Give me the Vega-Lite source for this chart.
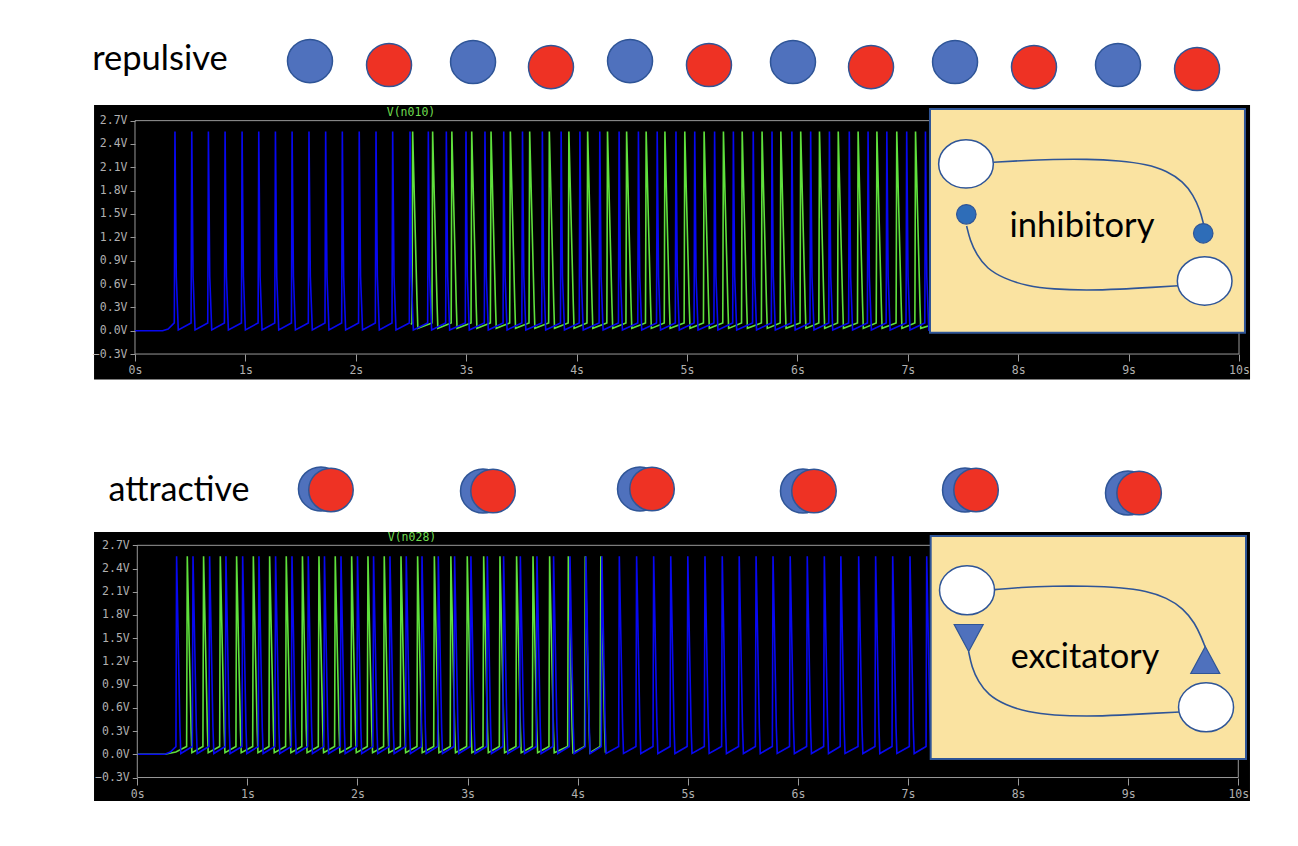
{"$schema":"https://vega.github.io/schema/vega-lite/v6.json","padding":0,"background":"white","spacing":0,"config":{"view":{"stroke":null}},
"datasets":{
"p1b":[{"t":0,"v":0},{"t":0.25,"v":0},{"t":0.3,"v":0.02},{"t":0.356,"v":0.1},{"t":0.362,"v":2.56},{"t":0.374,"v":0.7},{"t":0.392,"v":0.01},
{"t":0.508,"v":0.1},{"t":0.514,"v":2.56},{"t":0.526,"v":0.7},{"t":0.544,"v":0.01},
{"t":0.659,"v":0.1},{"t":0.665,"v":2.56},{"t":0.677,"v":0.7},{"t":0.695,"v":0.01},
{"t":0.81,"v":0.1},{"t":0.816,"v":2.56},{"t":0.828,"v":0.7},{"t":0.846,"v":0.01},
{"t":0.964,"v":0.1},{"t":0.97,"v":2.56},{"t":0.982,"v":0.7},{"t":1.0,"v":0.01},
{"t":1.115,"v":0.1},{"t":1.121,"v":2.56},{"t":1.133,"v":0.7},{"t":1.151,"v":0.01},
{"t":1.266,"v":0.1},{"t":1.272,"v":2.56},{"t":1.284,"v":0.7},{"t":1.302,"v":0.01},
{"t":1.417,"v":0.1},{"t":1.423,"v":2.56},{"t":1.435,"v":0.7},{"t":1.453,"v":0.01},
{"t":1.57,"v":0.1},{"t":1.576,"v":2.56},{"t":1.588,"v":0.7},{"t":1.606,"v":0.01},
{"t":1.721,"v":0.1},{"t":1.727,"v":2.56},{"t":1.739,"v":0.7},{"t":1.757,"v":0.01},
{"t":1.872,"v":0.1},{"t":1.878,"v":2.56},{"t":1.89,"v":0.7},{"t":1.908,"v":0.01},
{"t":2.025,"v":0.1},{"t":2.031,"v":2.56},{"t":2.043,"v":0.7},{"t":2.061,"v":0.01},
{"t":2.177,"v":0.1},{"t":2.183,"v":2.56},{"t":2.195,"v":0.7},{"t":2.213,"v":0.01},
{"t":2.328,"v":0.1},{"t":2.334,"v":2.56},{"t":2.346,"v":0.7},{"t":2.364,"v":0.01},
{"t":2.485,"v":0.1},{"t":2.491,"v":2.56},{"t":2.503,"v":0.7},{"t":2.521,"v":0.01},
{"t":2.651,"v":0.1},{"t":2.657,"v":2.56},{"t":2.669,"v":0.7},{"t":2.687,"v":0.01},
{"t":2.814,"v":0.1},{"t":2.82,"v":2.56},{"t":2.832,"v":0.7},{"t":2.85,"v":0.01},
{"t":2.992,"v":0.1},{"t":2.998,"v":2.56},{"t":3.01,"v":0.7},{"t":3.028,"v":0.01},
{"t":3.164,"v":0.1},{"t":3.17,"v":2.56},{"t":3.182,"v":0.7},{"t":3.2,"v":0.01},
{"t":3.334,"v":0.1},{"t":3.34,"v":2.56},{"t":3.352,"v":0.7},{"t":3.37,"v":0.01},
{"t":3.504,"v":0.1},{"t":3.51,"v":2.56},{"t":3.522,"v":0.7},{"t":3.54,"v":0.01},
{"t":3.684,"v":0.1},{"t":3.69,"v":2.56},{"t":3.702,"v":0.7},{"t":3.72,"v":0.01},
{"t":3.854,"v":0.1},{"t":3.86,"v":2.56},{"t":3.872,"v":0.7},{"t":3.89,"v":0.01},
{"t":4.024,"v":0.1},{"t":4.03,"v":2.56},{"t":4.042,"v":0.7},{"t":4.06,"v":0.01},
{"t":4.204,"v":0.1},{"t":4.21,"v":2.56},{"t":4.222,"v":0.7},{"t":4.24,"v":0.01},
{"t":4.379,"v":0.1},{"t":4.385,"v":2.56},{"t":4.397,"v":0.7},{"t":4.415,"v":0.01},
{"t":4.554,"v":0.1},{"t":4.56,"v":2.56},{"t":4.572,"v":0.7},{"t":4.59,"v":0.01},
{"t":4.724,"v":0.1},{"t":4.73,"v":2.56},{"t":4.742,"v":0.7},{"t":4.76,"v":0.01},
{"t":4.894,"v":0.1},{"t":4.9,"v":2.56},{"t":4.912,"v":0.7},{"t":4.93,"v":0.01},
{"t":5.064,"v":0.1},{"t":5.07,"v":2.56},{"t":5.082,"v":0.7},{"t":5.1,"v":0.01},
{"t":5.244,"v":0.1},{"t":5.25,"v":2.56},{"t":5.262,"v":0.7},{"t":5.28,"v":0.01},
{"t":5.414,"v":0.1},{"t":5.42,"v":2.56},{"t":5.432,"v":0.7},{"t":5.45,"v":0.01},
{"t":5.594,"v":0.1},{"t":5.6,"v":2.56},{"t":5.612,"v":0.7},{"t":5.63,"v":0.01},
{"t":5.764,"v":0.1},{"t":5.77,"v":2.56},{"t":5.782,"v":0.7},{"t":5.8,"v":0.01},
{"t":5.944,"v":0.1},{"t":5.95,"v":2.56},{"t":5.962,"v":0.7},{"t":5.98,"v":0.01},
{"t":6.114,"v":0.1},{"t":6.12,"v":2.56},{"t":6.132,"v":0.7},{"t":6.15,"v":0.01},
{"t":6.284,"v":0.1},{"t":6.29,"v":2.56},{"t":6.302,"v":0.7},{"t":6.32,"v":0.01},
{"t":6.464,"v":0.1},{"t":6.47,"v":2.56},{"t":6.482,"v":0.7},{"t":6.5,"v":0.01},
{"t":6.634,"v":0.1},{"t":6.64,"v":2.56},{"t":6.652,"v":0.7},{"t":6.67,"v":0.01},
{"t":6.804,"v":0.1},{"t":6.81,"v":2.56},{"t":6.822,"v":0.7},{"t":6.84,"v":0.01},
{"t":6.984,"v":0.1},{"t":6.99,"v":2.56},{"t":7.002,"v":0.7},{"t":7.02,"v":0.01},
{"t":7.154,"v":0.1},{"t":7.16,"v":2.56},{"t":7.172,"v":0.7},{"t":7.19,"v":0.01},{"t":7.3,"v":0.05}],
"p1g":[{"t":2.5,"v":0.08},{"t":2.509,"v":0.1},{"t":2.515,"v":2.56},{"t":2.555,"v":0.35},{"t":2.562,"v":0.03},
{"t":2.69,"v":0.1},{"t":2.696,"v":2.56},{"t":2.736,"v":0.35},{"t":2.743,"v":0.03},
{"t":2.864,"v":0.1},{"t":2.87,"v":2.56},{"t":2.91,"v":0.35},{"t":2.917,"v":0.03},
{"t":3.044,"v":0.1},{"t":3.05,"v":2.56},{"t":3.09,"v":0.35},{"t":3.097,"v":0.03},
{"t":3.219,"v":0.1},{"t":3.225,"v":2.56},{"t":3.265,"v":0.35},{"t":3.272,"v":0.03},
{"t":3.394,"v":0.1},{"t":3.4,"v":2.56},{"t":3.44,"v":0.35},{"t":3.447,"v":0.03},
{"t":3.569,"v":0.1},{"t":3.575,"v":2.56},{"t":3.615,"v":0.35},{"t":3.622,"v":0.03},
{"t":3.747,"v":0.1},{"t":3.753,"v":2.56},{"t":3.793,"v":0.35},{"t":3.8,"v":0.03},
{"t":3.924,"v":0.1},{"t":3.93,"v":2.56},{"t":3.97,"v":0.35},{"t":3.977,"v":0.03},
{"t":4.094,"v":0.1},{"t":4.1,"v":2.56},{"t":4.14,"v":0.35},{"t":4.147,"v":0.03},
{"t":4.274,"v":0.1},{"t":4.28,"v":2.56},{"t":4.32,"v":0.35},{"t":4.327,"v":0.03},
{"t":4.447,"v":0.1},{"t":4.453,"v":2.56},{"t":4.493,"v":0.35},{"t":4.5,"v":0.03},
{"t":4.624,"v":0.1},{"t":4.63,"v":2.56},{"t":4.67,"v":0.35},{"t":4.677,"v":0.03},
{"t":4.794,"v":0.1},{"t":4.8,"v":2.56},{"t":4.84,"v":0.35},{"t":4.847,"v":0.03},
{"t":4.974,"v":0.1},{"t":4.98,"v":2.56},{"t":5.02,"v":0.35},{"t":5.027,"v":0.03},
{"t":5.149,"v":0.1},{"t":5.155,"v":2.56},{"t":5.195,"v":0.35},{"t":5.202,"v":0.03},
{"t":5.324,"v":0.1},{"t":5.33,"v":2.56},{"t":5.37,"v":0.35},{"t":5.377,"v":0.03},
{"t":5.494,"v":0.1},{"t":5.5,"v":2.56},{"t":5.54,"v":0.35},{"t":5.547,"v":0.03},
{"t":5.674,"v":0.1},{"t":5.68,"v":2.56},{"t":5.72,"v":0.35},{"t":5.727,"v":0.03},
{"t":5.844,"v":0.1},{"t":5.85,"v":2.56},{"t":5.89,"v":0.35},{"t":5.897,"v":0.03},
{"t":6.024,"v":0.1},{"t":6.03,"v":2.56},{"t":6.07,"v":0.35},{"t":6.077,"v":0.03},
{"t":6.194,"v":0.1},{"t":6.2,"v":2.56},{"t":6.24,"v":0.35},{"t":6.247,"v":0.03},
{"t":6.364,"v":0.1},{"t":6.37,"v":2.56},{"t":6.41,"v":0.35},{"t":6.417,"v":0.03},
{"t":6.544,"v":0.1},{"t":6.55,"v":2.56},{"t":6.59,"v":0.35},{"t":6.597,"v":0.03},
{"t":6.714,"v":0.1},{"t":6.72,"v":2.56},{"t":6.76,"v":0.35},{"t":6.767,"v":0.03},
{"t":6.894,"v":0.1},{"t":6.9,"v":2.56},{"t":6.94,"v":0.35},{"t":6.947,"v":0.03},
{"t":7.064,"v":0.1},{"t":7.07,"v":2.56},{"t":7.11,"v":0.35},{"t":7.117,"v":0.03},{"t":7.25,"v":0.09}],
"p2b":[{"t":0,"v":0},{"t":0.25,"v":0},{"t":0.3,"v":0.03},{"t":0.351,"v":0.1},{"t":0.357,"v":2.56},{"t":0.387,"v":0.35},{"t":0.395,"v":0.01},
{"t":0.5,"v":0.1},{"t":0.506,"v":2.56},{"t":0.536,"v":0.35},{"t":0.544,"v":0.01},
{"t":0.651,"v":0.1},{"t":0.657,"v":2.56},{"t":0.687,"v":0.35},{"t":0.695,"v":0.01},
{"t":0.799,"v":0.1},{"t":0.805,"v":2.56},{"t":0.835,"v":0.35},{"t":0.843,"v":0.01},
{"t":0.951,"v":0.1},{"t":0.957,"v":2.56},{"t":0.987,"v":0.35},{"t":0.995,"v":0.01},
{"t":1.099,"v":0.1},{"t":1.105,"v":2.56},{"t":1.135,"v":0.35},{"t":1.143,"v":0.01},
{"t":1.25,"v":0.1},{"t":1.256,"v":2.56},{"t":1.286,"v":0.35},{"t":1.294,"v":0.01},
{"t":1.399,"v":0.1},{"t":1.405,"v":2.56},{"t":1.435,"v":0.35},{"t":1.443,"v":0.01},
{"t":1.547,"v":0.1},{"t":1.553,"v":2.56},{"t":1.583,"v":0.35},{"t":1.591,"v":0.01},
{"t":1.694,"v":0.1},{"t":1.7,"v":2.56},{"t":1.73,"v":0.35},{"t":1.738,"v":0.01},
{"t":1.844,"v":0.1},{"t":1.85,"v":2.56},{"t":1.88,"v":0.35},{"t":1.888,"v":0.01},
{"t":1.994,"v":0.1},{"t":2.0,"v":2.56},{"t":2.03,"v":0.35},{"t":2.038,"v":0.01},
{"t":2.14,"v":0.1},{"t":2.146,"v":2.56},{"t":2.176,"v":0.35},{"t":2.184,"v":0.01},
{"t":2.289,"v":0.1},{"t":2.295,"v":2.56},{"t":2.325,"v":0.35},{"t":2.333,"v":0.01},
{"t":2.437,"v":0.1},{"t":2.443,"v":2.56},{"t":2.473,"v":0.35},{"t":2.481,"v":0.01},
{"t":2.58,"v":0.1},{"t":2.586,"v":2.56},{"t":2.616,"v":0.35},{"t":2.624,"v":0.01},
{"t":2.728,"v":0.1},{"t":2.734,"v":2.56},{"t":2.764,"v":0.35},{"t":2.772,"v":0.01},
{"t":2.876,"v":0.1},{"t":2.882,"v":2.56},{"t":2.912,"v":0.35},{"t":2.92,"v":0.01},
{"t":3.024,"v":0.1},{"t":3.03,"v":2.56},{"t":3.06,"v":0.35},{"t":3.068,"v":0.01},
{"t":3.173,"v":0.1},{"t":3.179,"v":2.56},{"t":3.209,"v":0.35},{"t":3.217,"v":0.01},
{"t":3.321,"v":0.1},{"t":3.327,"v":2.56},{"t":3.357,"v":0.35},{"t":3.365,"v":0.01},
{"t":3.473,"v":0.1},{"t":3.479,"v":2.56},{"t":3.509,"v":0.35},{"t":3.517,"v":0.01},
{"t":3.624,"v":0.1},{"t":3.63,"v":2.56},{"t":3.66,"v":0.35},{"t":3.668,"v":0.01},
{"t":3.775,"v":0.1},{"t":3.781,"v":2.56},{"t":3.811,"v":0.35},{"t":3.819,"v":0.01},
{"t":3.924,"v":0.1},{"t":3.93,"v":2.56},{"t":3.96,"v":0.35},{"t":3.968,"v":0.01},
{"t":4.069,"v":0.1},{"t":4.075,"v":2.56},{"t":4.105,"v":0.35},{"t":4.113,"v":0.01},
{"t":4.214,"v":0.1},{"t":4.22,"v":2.56},{"t":4.25,"v":0.35},{"t":4.258,"v":0.01},
{"t":4.372,"v":0.1},{"t":4.378,"v":2.56},{"t":4.408,"v":0.35},{"t":4.416,"v":0.01},
{"t":4.529,"v":0.1},{"t":4.535,"v":2.56},{"t":4.565,"v":0.35},{"t":4.573,"v":0.01},
{"t":4.684,"v":0.1},{"t":4.69,"v":2.56},{"t":4.72,"v":0.35},{"t":4.728,"v":0.01},
{"t":4.839,"v":0.1},{"t":4.845,"v":2.56},{"t":4.875,"v":0.35},{"t":4.883,"v":0.01},
{"t":4.994,"v":0.1},{"t":5.0,"v":2.56},{"t":5.03,"v":0.35},{"t":5.038,"v":0.01},
{"t":5.15,"v":0.1},{"t":5.156,"v":2.56},{"t":5.186,"v":0.35},{"t":5.194,"v":0.01},
{"t":5.307,"v":0.1},{"t":5.313,"v":2.56},{"t":5.343,"v":0.35},{"t":5.351,"v":0.01},
{"t":5.461,"v":0.1},{"t":5.467,"v":2.56},{"t":5.497,"v":0.35},{"t":5.505,"v":0.01},
{"t":5.614,"v":0.1},{"t":5.62,"v":2.56},{"t":5.65,"v":0.35},{"t":5.658,"v":0.01},
{"t":5.768,"v":0.1},{"t":5.774,"v":2.56},{"t":5.804,"v":0.35},{"t":5.812,"v":0.01},
{"t":5.924,"v":0.1},{"t":5.93,"v":2.56},{"t":5.96,"v":0.35},{"t":5.968,"v":0.01},
{"t":6.079,"v":0.1},{"t":6.085,"v":2.56},{"t":6.115,"v":0.35},{"t":6.123,"v":0.01},
{"t":6.234,"v":0.1},{"t":6.24,"v":2.56},{"t":6.27,"v":0.35},{"t":6.278,"v":0.01},
{"t":6.384,"v":0.1},{"t":6.39,"v":2.56},{"t":6.42,"v":0.35},{"t":6.428,"v":0.01},
{"t":6.546,"v":0.1},{"t":6.552,"v":2.56},{"t":6.582,"v":0.35},{"t":6.59,"v":0.01},
{"t":6.7,"v":0.1},{"t":6.706,"v":2.56},{"t":6.736,"v":0.35},{"t":6.744,"v":0.01},
{"t":6.855,"v":0.1},{"t":6.861,"v":2.56},{"t":6.891,"v":0.35},{"t":6.899,"v":0.01},
{"t":7.012,"v":0.1},{"t":7.018,"v":2.56},{"t":7.048,"v":0.35},{"t":7.056,"v":0.01},
{"t":7.164,"v":0.1},{"t":7.17,"v":2.56},{"t":7.2,"v":0.35},{"t":7.208,"v":0.01}],
"p2g":[{"t":0,"v":0},{"t":0.25,"v":0},{"t":0.35,"v":0.03},{"t":0.448,"v":0.1},{"t":0.454,"v":2.56},{"t":0.489,"v":0.3},{"t":0.496,"v":0.02},
{"t":0.596,"v":0.1},{"t":0.602,"v":2.56},{"t":0.637,"v":0.3},{"t":0.644,"v":0.02},
{"t":0.748,"v":0.1},{"t":0.754,"v":2.56},{"t":0.789,"v":0.3},{"t":0.796,"v":0.02},
{"t":0.896,"v":0.1},{"t":0.902,"v":2.56},{"t":0.937,"v":0.3},{"t":0.944,"v":0.02},
{"t":1.048,"v":0.1},{"t":1.054,"v":2.56},{"t":1.089,"v":0.3},{"t":1.096,"v":0.02},
{"t":1.196,"v":0.1},{"t":1.202,"v":2.56},{"t":1.237,"v":0.3},{"t":1.244,"v":0.02},
{"t":1.347,"v":0.1},{"t":1.353,"v":2.56},{"t":1.388,"v":0.3},{"t":1.395,"v":0.02},
{"t":1.494,"v":0.1},{"t":1.5,"v":2.56},{"t":1.535,"v":0.3},{"t":1.542,"v":0.02},
{"t":1.644,"v":0.1},{"t":1.65,"v":2.56},{"t":1.685,"v":0.3},{"t":1.692,"v":0.02},
{"t":1.792,"v":0.1},{"t":1.798,"v":2.56},{"t":1.833,"v":0.3},{"t":1.84,"v":0.02},
{"t":1.941,"v":0.1},{"t":1.947,"v":2.56},{"t":1.982,"v":0.3},{"t":1.989,"v":0.02},
{"t":2.089,"v":0.1},{"t":2.095,"v":2.56},{"t":2.13,"v":0.3},{"t":2.137,"v":0.02},
{"t":2.237,"v":0.1},{"t":2.243,"v":2.56},{"t":2.278,"v":0.3},{"t":2.285,"v":0.02},
{"t":2.389,"v":0.1},{"t":2.395,"v":2.56},{"t":2.43,"v":0.3},{"t":2.437,"v":0.02},
{"t":2.54,"v":0.1},{"t":2.546,"v":2.56},{"t":2.581,"v":0.3},{"t":2.588,"v":0.02},
{"t":2.692,"v":0.1},{"t":2.698,"v":2.56},{"t":2.733,"v":0.3},{"t":2.74,"v":0.02},
{"t":2.842,"v":0.1},{"t":2.848,"v":2.56},{"t":2.883,"v":0.3},{"t":2.89,"v":0.02},
{"t":2.991,"v":0.1},{"t":2.997,"v":2.56},{"t":3.032,"v":0.3},{"t":3.039,"v":0.02},
{"t":3.14,"v":0.1},{"t":3.146,"v":2.56},{"t":3.181,"v":0.3},{"t":3.188,"v":0.02},
{"t":3.288,"v":0.1},{"t":3.294,"v":2.56},{"t":3.329,"v":0.3},{"t":3.336,"v":0.02},
{"t":3.439,"v":0.1},{"t":3.445,"v":2.56},{"t":3.48,"v":0.3},{"t":3.487,"v":0.02},
{"t":3.588,"v":0.1},{"t":3.594,"v":2.56},{"t":3.629,"v":0.3},{"t":3.636,"v":0.02},
{"t":3.739,"v":0.1},{"t":3.745,"v":2.56},{"t":3.78,"v":0.3},{"t":3.787,"v":0.02},
{"t":3.909,"v":0.1},{"t":3.915,"v":2.56},{"t":3.95,"v":0.3},{"t":3.957,"v":0.02},
{"t":4.063,"v":0.1},{"t":4.069,"v":2.56},{"t":4.104,"v":0.3},{"t":4.111,"v":0.02},
{"t":4.204,"v":0.1},{"t":4.21,"v":2.56},{"t":4.245,"v":0.3},{"t":4.252,"v":0.02}],
"c1":[{"c":"a","t":7.775,"v":2.165},{"c":"a","t":8.016,"v":2.185},{"c":"a","t":8.318,"v":2.203},{"c":"a","t":8.62,"v":2.207},{"c":"a","t":8.922,"v":2.185},{"c":"a","t":9.164,"v":2.139},{"c":"a","t":9.345,"v":2.057},{"c":"a","t":9.496,"v":1.915},{"c":"a","t":9.586,"v":1.744},{"c":"a","t":9.647,"v":1.551},{"c":"a","t":9.677,"v":1.38},
{"c":"b","t":7.533,"v":1.346},{"c":"b","t":7.563,"v":1.166},{"c":"b","t":7.624,"v":0.973},{"c":"b","t":7.715,"v":0.802},{"c":"b","t":7.865,"v":0.674},{"c":"b","t":8.077,"v":0.575},{"c":"b","t":8.318,"v":0.532},{"c":"b","t":8.62,"v":0.519},{"c":"b","t":8.922,"v":0.532},{"c":"b","t":9.224,"v":0.558},{"c":"b","t":9.451,"v":0.578}],
"c2":[{"c":"a","t":7.787,"v":2.127},{"c":"a","t":8.017,"v":2.158},{"c":"a","t":8.32,"v":2.174},{"c":"a","t":8.623,"v":2.174},{"c":"a","t":8.926,"v":2.158},{"c":"a","t":9.168,"v":2.11},{"c":"a","t":9.35,"v":2.023},{"c":"a","t":9.5,"v":1.886},{"c":"a","t":9.607,"v":1.693},{"c":"a","t":9.668,"v":1.499},{"c":"a","t":9.698,"v":1.39},
{"c":"b","t":7.551,"v":1.326},{"c":"b","t":7.578,"v":1.132},{"c":"b","t":7.638,"v":0.938},{"c":"b","t":7.729,"v":0.766},{"c":"b","t":7.881,"v":0.637},{"c":"b","t":8.093,"v":0.543},{"c":"b","t":8.32,"v":0.504},{"c":"b","t":8.623,"v":0.491},{"c":"b","t":8.926,"v":0.504},{"c":"b","t":9.228,"v":0.53},{"c":"b","t":9.464,"v":0.547}]
},
"vconcat":[
{"width":1298,"height":423,
"encoding":{"x":{"field":"t","type":"quantitative","title":null,"scale":{"domain":[-1.2228,10.5344],"nice":false,"zero":false},"axis":{"values":[0,1,2,3,4,5,6,7,8,9,10],"labelExpr":"datum.value+'s'","offset":-69,"grid":false,"domain":false,"tickColor":"#999999","tickSize":7,"labelColor":"#b0b0b0","labelFont":"DejaVu Sans Mono","labelFontSize":11.5,"labelPadding":3,"labelFlush":false,"zindex":1}},
"y":{"field":"v","type":"quantitative","title":null,"scale":{"domain":[-1.1864,4.2506],"nice":false,"zero":false},"axis":{"values":[-0.3,0,0.3,0.6,0.9,1.2,1.5,1.8,2.1,2.4,2.7],"labelExpr":"format(datum.value,'.1f')+'V'","offset":-135,"grid":false,"domain":false,"tickColor":"#999999","tickSize":5,"labelColor":"#b0b0b0","labelFont":"DejaVu Sans Mono","labelFontSize":11.5,"labelPadding":3,"zindex":1}}},
"layer":[
{"data":{"values":[{"t":-0.371,"t2":10.1,"v":2.901,"v2":-0.627}]},"mark":{"type":"rect","fill":"#000000"},"encoding":{"x2":{"field":"t2"},"y2":{"field":"v2"}}},
{"data":{"values":[{"t":0,"t2":10,"v":2.7,"v2":-0.3}]},"mark":{"type":"rect","fillOpacity":0,"stroke":"#999999","strokeWidth":1},"encoding":{"x2":{"field":"t2"},"y2":{"field":"v2"}}},
{"data":{"values":[{"t":2.5,"v":2.798,"label":"V(n010)"}]},"mark":{"type":"text","font":"DejaVu Sans Mono","fontSize":11.5,"color":"#6fdc4f"},"encoding":{"text":{"field":"label"}}},
{"data":{"name":"p1g"},"mark":{"type":"line","color":"#5fe03c","strokeWidth":1.6}},
{"data":{"name":"p1b"},"mark":{"type":"line","color":"#0808f0","strokeWidth":1.6}},
{"data":{"values":[{"t":7.201,"t2":10.054,"v":2.85,"v2":-0.026}]},"mark":{"type":"rect","fill":"#fae3a1","stroke":"#2f5597","strokeWidth":2},"encoding":{"x2":{"field":"t2"},"y2":{"field":"v2"}}},
{"data":{"name":"c1"},"mark":{"type":"line","color":"#2f5597","strokeWidth":1.6,"interpolate":"basis"},"encoding":{"detail":{"field":"c"}}},
{"data":{"values":[{"t":7.527,"v":2.143},{"t":9.689,"v":0.639}]},"mark":{"type":"point","filled":true,"fill":"#ffffff","fillOpacity":1,"stroke":"#2f5597","strokeWidth":1.5,"size":2990,"shape":"M-1,0A1,0.883 0 1 0 1,0A1,0.883 0 1 0 -1,0Z"}},
{"data":{"values":[{"t":7.53,"v":1.496},{"t":9.676,"v":1.252}]},"mark":{"type":"point","filled":true,"fill":"#2e6db8","fillOpacity":1,"stroke":"#2f5597","strokeWidth":1.2,"size":380,"shape":"circle"}},
{"data":{"values":[{"t":8.578,"v":1.333,"label":"inhibitory"}]},"mark":{"type":"text","font":"Lato","fontSize":34.5,"color":"#000000"},"encoding":{"text":{"field":"label"}}},
{"data":{"values":[{"t":1.585,"v":3.466},{"t":3.062,"v":3.454},{"t":4.484,"v":3.466},{"t":5.96,"v":3.454},{"t":7.428,"v":3.454},{"t":8.904,"v":3.415}]},"mark":{"type":"point","filled":true,"fill":"#4f71bd","fillOpacity":1,"stroke":"#2f5597","strokeWidth":1.5,"size":2025,"shape":"M-1,0A1,0.96 0 1 0 1,0A1,0.96 0 1 0 -1,0Z"}},
{"data":{"values":[{"t":2.301,"v":3.415},{"t":3.768,"v":3.389},{"t":5.199,"v":3.415},{"t":6.667,"v":3.389},{"t":8.143,"v":3.389},{"t":9.62,"v":3.364}]},"mark":{"type":"point","filled":true,"fill":"#ee3224","fillOpacity":1,"stroke":"#2f5597","strokeWidth":1.5,"size":2025,"shape":"M-1,0A1,0.96 0 1 0 1,0A1,0.96 0 1 0 -1,0Z"}},
{"data":{"values":[{"t":0.226,"v":3.48,"label":"repulsive"}]},"mark":{"type":"text","font":"Lato","fontSize":34.5,"color":"#000000"},"encoding":{"text":{"field":"label"}}}
]},
{"width":1298,"height":423,
"encoding":{"x":{"field":"t","type":"quantitative","title":null,"scale":{"domain":[-1.247,10.5422],"nice":false,"zero":false},"axis":{"values":[0,1,2,3,4,5,6,7,8,9,10],"labelExpr":"datum.value+'s'","offset":-68,"grid":false,"domain":false,"tickColor":"#999999","tickSize":7,"labelColor":"#b0b0b0","labelFont":"DejaVu Sans Mono","labelFontSize":11.5,"labelPadding":3,"labelFlush":false,"zindex":1}},
"y":{"field":"v","type":"quantitative","title":null,"scale":{"domain":[-1.1848,4.2804],"nice":false,"zero":false},"axis":{"values":[-0.3,0,0.3,0.6,0.9,1.2,1.5,1.8,2.1,2.4,2.7],"labelExpr":"format(datum.value,'.1f')+'V'","offset":-137.3,"grid":false,"domain":false,"tickColor":"#999999","tickSize":5,"labelColor":"#b0b0b0","labelFont":"DejaVu Sans Mono","labelFontSize":11.5,"labelPadding":3,"zindex":1}}},
"layer":[
{"data":{"values":[{"t":-0.393,"t2":10.106,"v":2.872,"v2":-0.603}]},"mark":{"type":"rect","fill":"#000000"},"encoding":{"x2":{"field":"t2"},"y2":{"field":"v2"}}},
{"data":{"values":[{"t":0,"t2":10,"v":2.7,"v2":-0.3}]},"mark":{"type":"rect","fillOpacity":0,"stroke":"#999999","strokeWidth":1},"encoding":{"x2":{"field":"t2"},"y2":{"field":"v2"}}},
{"data":{"values":[{"t":2.495,"v":2.795,"label":"V(n028)"}]},"mark":{"type":"text","font":"DejaVu Sans Mono","fontSize":11.5,"color":"#6fdc4f"},"encoding":{"text":{"field":"label"}}},
{"data":{"name":"p2g"},"mark":{"type":"line","color":"#5fe03c","strokeWidth":1.6}},
{"data":{"name":"p2b"},"mark":{"type":"line","color":"#0808f0","strokeWidth":1.6}},
{"data":{"values":[{"t":7.206,"t2":10.07,"v":2.82,"v2":-0.061}]},"mark":{"type":"rect","fill":"#fae3a1","stroke":"#2f5597","strokeWidth":2},"encoding":{"x2":{"field":"t2"},"y2":{"field":"v2"}}},
{"data":{"name":"c2"},"mark":{"type":"line","color":"#2f5597","strokeWidth":1.6,"interpolate":"basis"},"encoding":{"detail":{"field":"c"}}},
{"data":{"values":[{"t":7.536,"v":2.119},{"t":9.707,"v":0.607}]},"mark":{"type":"point","filled":true,"fill":"#ffffff","fillOpacity":1,"stroke":"#2f5597","strokeWidth":1.5,"size":3025,"shape":"M-1,0A1,0.89 0 1 0 1,0A1,0.89 0 1 0 -1,0Z"}},
{"data":{"values":[{"t":7.551,"v":1.503}]},"mark":{"type":"point","filled":true,"fill":"#4f71bd","fillOpacity":1,"stroke":"#2f5597","strokeWidth":1.2,"size":841,"shape":"M-1,-0.93L1,-0.93L0,0.93Z"}},
{"data":{"values":[{"t":9.7,"v":1.218}]},"mark":{"type":"point","filled":true,"fill":"#4f71bd","fillOpacity":1,"stroke":"#2f5597","strokeWidth":1.2,"size":841,"shape":"M-1,0.93L1,0.93L0,-0.93Z"}},
{"data":{"values":[{"t":8.607,"v":1.244,"label":"excitatory"}]},"mark":{"type":"text","font":"Lato","fontSize":34,"color":"#000000"},"encoding":{"text":{"field":"label"}}},
{"data":{"values":[{"t":1.668,"v":3.428},{"t":3.14,"v":3.402},{"t":4.566,"v":3.428},{"t":6.046,"v":3.402},{"t":7.518,"v":3.415},{"t":8.998,"v":3.376}]},"mark":{"type":"point","filled":true,"fill":"#4f71bd","fillOpacity":1,"stroke":"#2f5597","strokeWidth":1.5,"size":2025,"shape":"M-1,0A1,0.98 0 1 0 1,0A1,0.98 0 1 0 -1,0Z"}},
{"data":{"values":[{"t":1.759,"v":3.415},{"t":3.231,"v":3.402},{"t":4.675,"v":3.428},{"t":6.146,"v":3.402},{"t":7.618,"v":3.415},{"t":9.099,"v":3.376}]},"mark":{"type":"point","filled":true,"fill":"#ee3224","fillOpacity":1,"stroke":"#2f5597","strokeWidth":1.5,"size":1980,"shape":"M-1,0A1,0.98 0 1 0 1,0A1,0.98 0 1 0 -1,0Z"}},
{"data":{"values":[{"t":0.379,"v":3.408,"label":"attractive"}]},"mark":{"type":"text","font":"Lato","fontSize":34,"color":"#000000"},"encoding":{"text":{"field":"label"}}}
]}
]}
